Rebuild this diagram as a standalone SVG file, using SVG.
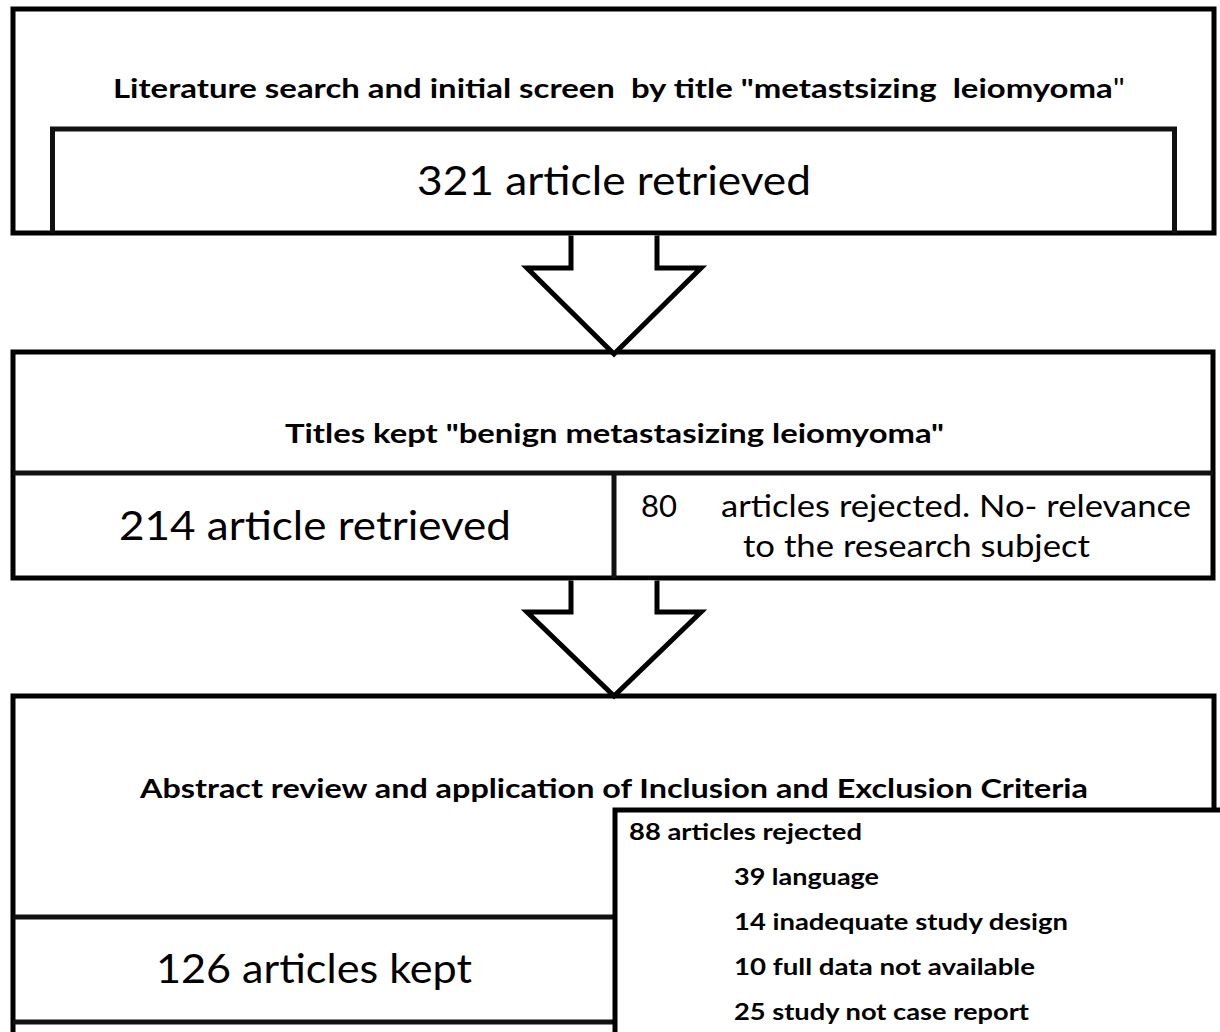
<svg xmlns="http://www.w3.org/2000/svg" width="1220" height="1032" viewBox="0 0 1220 1032">
<style>
.box{fill:none;stroke:#000;stroke-width:5;stroke-linejoin:miter}
.ln{fill:none;stroke:#111;stroke-width:5}
.arrow{fill:#fff;stroke:#000;stroke-width:5;stroke-linejoin:miter}
text{font-family:Lato,"Open Sans","Liberation Sans",sans-serif;fill:#000}
.pre{white-space:pre}
.t{font-size:26px;font-weight:bold}
.big{font-size:41px}
.mid{font-size:30px}
.sm{font-size:22px;font-weight:bold}
</style>
<rect width="1220" height="1032" fill="#fff"/>
<g id="node-search">
<rect class="box" x="13" y="9" width="1201" height="224"/>
<path class="ln" d="M52.5,233 V129 H1174.5 V233"/>
<text class="t pre" x="113" y="98" textLength="1012" lengthAdjust="spacingAndGlyphs" xml:space="preserve">Literature search and initial screen  by title "metastsizing  leiomyoma<tspan font-weight="normal">"</tspan></text>
<text class="big" x="417" y="195" textLength="394" lengthAdjust="spacingAndGlyphs">321 article retrieved</text>
</g>
<g id="node-titles">
<rect class="box" x="13" y="352" width="1200" height="226"/>
<path class="ln" d="M13,473 H1213 M614,473 V578"/>
<text class="t" x="285" y="443" textLength="659" lengthAdjust="spacingAndGlyphs">Titles kept "benign metastasizing leiomyoma"</text>
<text class="big" x="119" y="540" textLength="392" lengthAdjust="spacingAndGlyphs">214 article retrieved</text>
<text class="mid" x="641" y="517" textLength="36" lengthAdjust="spacingAndGlyphs">80</text>
<text class="mid" x="721" y="517" textLength="470" lengthAdjust="spacingAndGlyphs">articles rejected. No- relevance</text>
<text class="mid" x="743" y="557" textLength="347" lengthAdjust="spacingAndGlyphs">to the research subject</text>
</g>
<g id="node-abstract">
<path class="box" d="M13,1040 V696 H1214 V810"/>
<path class="ln" d="M13,917 H615 M13,1022 H615"/>
<text class="t" x="140" y="798" textLength="948" lengthAdjust="spacingAndGlyphs">Abstract review and application of Inclusion and Exclusion Criteria</text>
<text class="big" x="156" y="983" textLength="316" lengthAdjust="spacingAndGlyphs">126 articles kept</text>
</g>
<g id="node-rejected">
<path class="box" d="M615,1040 V810 H1230"/>
<text class="sm" x="629" y="840" textLength="233" lengthAdjust="spacingAndGlyphs">88 articles rejected</text>
<text class="sm" x="734" y="885" textLength="145" lengthAdjust="spacingAndGlyphs">39 language</text>
<text class="sm" x="734" y="930" textLength="334" lengthAdjust="spacingAndGlyphs">14 inadequate study design</text>
<text class="sm" x="734" y="975" textLength="301" lengthAdjust="spacingAndGlyphs">10 full data not available</text>
<text class="sm" x="734" y="1020" textLength="295" lengthAdjust="spacingAndGlyphs">25 study not case report</text>
</g>
<g id="connectors">
<path class="arrow" d="M571,235.5 V268 H527 L614,354 L701,268 H657 V235.5"/>
<path class="arrow" d="M571,580.5 V612 H527 L614,696 L701,612 H657 V580.5"/>
</g>
</svg>
